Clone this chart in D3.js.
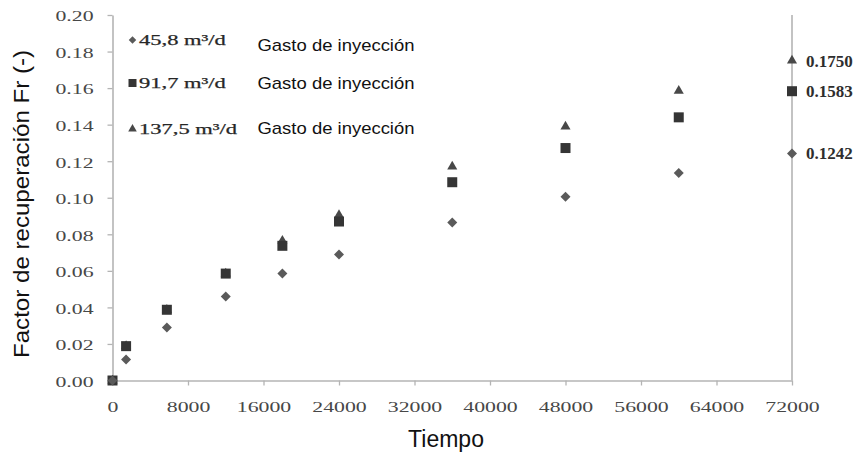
<!DOCTYPE html>
<html>
<head>
<meta charset="utf-8">
<script src="https://cdn.jsdelivr.net/npm/d3@7"></script>
<style>
  html, body { margin: 0; padding: 0; background: #ffffff; }
  svg { display: block; }
</style>
</head>
<body>
<svg id="chart" width="860" height="456"></svg>
<script>
// Tiempo (eje X)
const tiempo = [0, 1440, 5760, 12000, 18000, 24000, 36000, 48000, 60000, 72000];

// Factor de recuperación por gasto de inyección
const fr45 = [0, 0.0115, 0.029, 0.046, 0.0585, 0.069, 0.0865, 0.1005, 0.1135, 0.1242];
const fr91 = [0, 0.0188, 0.0387, 0.0585, 0.0737, 0.087, 0.1085, 0.1272, 0.144, 0.1583];
const fr137 = [0, 0.0188, 0.0387, 0.0585, 0.0765, 0.0905, 0.117, 0.139, 0.1585, 0.1750];

const gastos = ["45,8 m³/d", "91,7 m³/d", "137,5 m³/d"];
const legendTitle = "Gasto de inyección";
const finalLabels = ["0.1242", "0.1583", "0.1750"];

const xTicks = [0, 8000, 16000, 24000, 32000, 40000, 48000, 56000, 64000, 72000];
const yTicks = [0, 0.02, 0.04, 0.06, 0.08, 0.10, 0.12, 0.14, 0.16, 0.18, 0.20];

const xTitle = "Tiempo";
const yTitle = "Factor de recuperación Fr (-)";

const svg = d3.select("#chart");
const serif = "'Liberation Serif', 'Times New Roman', serif";
const sans = "'Liberation Sans', Arial, sans-serif";
const axisColor = "#b4b4b4";

const x = d3.scaleLinear().domain([0, 72000]).range([112.5, 792]);
const y = d3.scaleLinear().domain([0, 0.20]).range([380.5, 15]);

// widen a text element horizontally by a factor
function widen(sel, k) {
  sel.each(function () {
    const w = this.getComputedTextLength();
    this.setAttribute("textLength", (w * k).toFixed(2));
    this.setAttribute("lengthAdjust", "spacingAndGlyphs");
  });
}

// Y axis
const gy = svg.append("g")
  .attr("transform", `translate(${x(0)},0)`)
  .call(d3.axisLeft(y).tickValues(yTicks).tickSize(5).tickSizeOuter(0)
    .tickPadding(14).tickFormat(d3.format(".2f")));
gy.select(".domain").attr("stroke", axisColor).attr("stroke-width", 1.6);
gy.selectAll(".tick line").attr("stroke", axisColor).attr("stroke-width", 1.3);
gy.selectAll(".tick text")
  .attr("font-family", serif).attr("font-size", 14.5).attr("fill", "#474747")
  .attr("dy", "0.4em");
widen(gy.selectAll(".tick text"), 1.5);

// X axis
const gx = svg.append("g")
  .attr("transform", `translate(0,${y(0)})`)
  .call(d3.axisBottom(x).tickValues(xTicks).tickSize(5).tickSizeOuter(0)
    .tickPadding(16).tickFormat(d3.format("d")));
gx.select(".domain").attr("stroke", axisColor).attr("stroke-width", 1.6);
gx.selectAll(".tick line").attr("stroke", axisColor).attr("stroke-width", 1.3);
gx.selectAll(".tick text")
  .attr("font-family", serif).attr("font-size", 14.5).attr("fill", "#474747");
widen(gx.selectAll(".tick text"), 1.5);

// vertical line at the final time
svg.append("line")
  .attr("x1", x(72000)).attr("x2", x(72000))
  .attr("y1", y(0)).attr("y2", y(0.20))
  .attr("stroke", axisColor).attr("stroke-width", 1.6);

// marker shapes
const triPath = d3.symbol().type(d3.symbolTriangle).size(44)();
const sqPath = d3.symbol().type(d3.symbolSquare).size(100)();
const diaPath = d3.symbol().type(d3.symbolSquare).size(50)();

const series = [
  { vals: fr137, path: triPath, rot: 0, fill: "#484848" },
  { vals: fr91, path: sqPath, rot: 0, fill: "#353535" },
  { vals: fr45, path: diaPath, rot: 45, fill: "#5a5a5a" }
];

series.forEach(s => {
  svg.append("g").selectAll("path")
    .data(tiempo.map((t, i) => [t, s.vals[i]]))
    .join("path")
    .attr("d", s.path)
    .attr("fill", s.fill)
    .attr("transform", d => `translate(${x(d[0])},${y(d[1])}) rotate(${s.rot})`);
});

// values at the final time
const finals = [fr45, fr91, fr137].map(v => v[v.length - 1]);
svg.append("g").selectAll("text")
  .data(finals)
  .join("text")
  .attr("x", x(72000) + 14)
  .attr("y", d => y(d))
  .attr("dy", "0.35em")
  .attr("font-family", serif)
  .attr("font-weight", "bold")
  .attr("font-size", 17)
  .attr("fill", "#2e2e2e")
  .text((d, i) => finalLabels[i]);

// legend
const legendRows = [
  { y: 40, path: diaPath, rot: 45, scale: 0.75, fill: "#5a5a5a", titleY: 45.5 },
  { y: 83, path: sqPath, rot: 0, scale: 0.8, fill: "#353535", titleY: 83 },
  { y: 129, path: triPath, rot: 0, scale: 0.85, fill: "#484848", titleY: 128.5 }
];
const legend = svg.append("g");
legendRows.forEach((r, i) => {
  legend.append("path")
    .attr("d", r.path)
    .attr("fill", r.fill)
    .attr("transform", `translate(132.5,${r.y}) rotate(${r.rot}) scale(${r.scale})`);
  const t = legend.append("text")
    .attr("x", 139)
    .attr("y", r.y)
    .attr("dy", "0.35em")
    .attr("font-family", serif)
    .attr("font-size", 15)
    .attr("fill", "#262626")
    .attr("stroke", "#262626")
    .attr("stroke-width", 0.25)
    .text(gastos[i]);
  widen(t, 1.5);
  legend.append("text")
    .attr("x", 257.5)
    .attr("y", r.titleY)
    .attr("dy", "0.35em")
    .attr("font-family", sans)
    .attr("font-size", 17)
    .attr("fill", "#111")
    .attr("textLength", 157)
    .attr("lengthAdjust", "spacingAndGlyphs")
    .text(legendTitle);
});

// axis titles
svg.append("text")
  .attr("x", 446)
  .attr("y", 446.5)
  .attr("text-anchor", "middle")
  .attr("font-family", sans)
  .attr("font-size", 23)
  .attr("fill", "#111")
  .text(xTitle);

svg.append("text")
  .attr("transform", "translate(29,204) rotate(-90)")
  .attr("text-anchor", "middle")
  .attr("font-family", sans)
  .attr("font-size", 22)
  .attr("fill", "#111")
  .attr("textLength", 308)
  .attr("lengthAdjust", "spacingAndGlyphs")
  .text(yTitle);
</script>
</body>
</html>
